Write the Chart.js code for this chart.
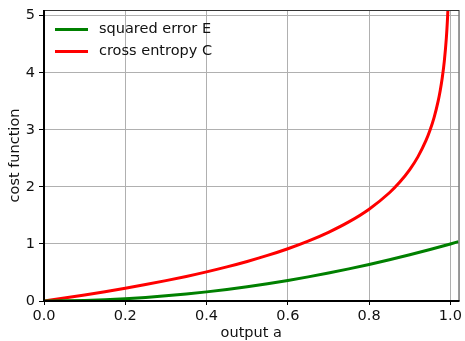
<!DOCTYPE html>
<html>
<head>
<meta charset="utf-8">
<script src="https://cdn.jsdelivr.net/npm/chart.js@4/dist/chart.umd.min.js"></script>
<style>
html,body{margin:0;padding:0;background:#fff;}
#wrap{width:465px;height:341px;position:relative;}
</style>
</head>
<body>
<div id="wrap"><canvas id="c" width="465" height="341"></canvas></div>
<script>
// output a values and read cost values
const xE = [0,0.05,0.1,0.15,0.2,0.25,0.3,0.35,0.4,0.45,0.5,0.55,0.6,0.65,0.7,0.75,0.8,0.85,0.9,0.95,1.0,1.02];
const squaredError = [0,0.0025,0.01,0.0225,0.04,0.0625,0.09,0.1225,0.16,0.2025,0.25,0.3025,0.36,0.4225,0.49,0.5625,0.64,0.7225,0.81,0.9025,1.0,1.04];
const xC = [0,0.05,0.1,0.15,0.2,0.25,0.3,0.35,0.4,0.45,0.5,0.55,0.6,0.65,0.7,0.75,0.8,0.85,0.875,0.9,0.92,0.94,0.95,0.96,0.97,0.975,0.98,0.985,0.99,0.993,0.994];
const crossEntropy = [0,0.0513,0.1054,0.1625,0.2231,0.2877,0.3567,0.4308,0.5108,0.5978,0.6931,0.7985,0.9163,1.0498,1.2040,1.3863,1.6094,1.8971,2.0794,2.3026,2.5257,2.8134,2.9957,3.2189,3.5066,3.6889,3.9120,4.1997,4.6052,4.9618,5.1160];
const xTicks = [0,0.2,0.4,0.6,0.8,1.0];
const yTicks = [0,1,2,3,4,5];
const seriesLabels = ["squared error E","cross entropy C"];
const axisTitles = {x:"output a", y:"cost function"};

const FONT = "'DejaVu Sans', sans-serif";
const FS = 14.5;

const legendPlugin = {
  id:'inlegend',
  afterDraw(chart){
    const ctx = chart.ctx;
    const a = chart.chartArea;
    ctx.save();
    chart.data.datasets.forEach((ds,i)=>{
      const y = a.top + 19.5 + i*22;
      ctx.strokeStyle = ds.borderColor;
      ctx.lineWidth = 3;
      ctx.beginPath();
      ctx.moveTo(a.left+11, y);
      ctx.lineTo(a.left+44, y);
      ctx.stroke();
      ctx.fillStyle = '#111';
      ctx.font = FS + "px " + FONT;
      ctx.textBaseline = 'middle';
      ctx.textAlign = 'left';
      ctx.fillText(ds.label, a.left+55, y);
    });
    ctx.restore();
  }
};

const framePlugin = {
  id:'frame',
  afterDatasetsDraw(chart){
    const ctx = chart.ctx;
    const a = chart.chartArea;
    ctx.save();
    ctx.strokeStyle = '#333';
    ctx.lineWidth = 1;
    ctx.beginPath();
    ctx.moveTo(a.left, a.top+0.5); ctx.lineTo(a.right+0.5, a.top+0.5);
    ctx.moveTo(a.right+0.5, a.top); ctx.lineTo(a.right+0.5, a.bottom);
    ctx.stroke();
    ctx.strokeStyle = '#000';
    ctx.lineWidth = 2;
    ctx.beginPath();
    ctx.moveTo(a.left, a.top); ctx.lineTo(a.left, a.bottom+1);
    ctx.moveTo(a.left-1, a.bottom); ctx.lineTo(a.right+1, a.bottom);
    ctx.stroke();
    ctx.restore();
  }
};

new Chart(document.getElementById('c'), {
  type:'scatter',
  data:{
    datasets:[
      {label:seriesLabels[0], data:xE.map((x,i)=>({x:x,y:squaredError[i]})), borderColor:'#008000', backgroundColor:'#008000', showLine:true, pointRadius:0, borderWidth:3, cubicInterpolationMode:'monotone'},
      {label:seriesLabels[1], data:xC.map((x,i)=>({x:x,y:crossEntropy[i]})), borderColor:'#ff0000', backgroundColor:'#ff0000', showLine:true, pointRadius:0, borderWidth:3, cubicInterpolationMode:'monotone'}
    ]
  },
  options:{
    responsive:false,
    animation:false,
    layout:{padding:{top:10,right:4,left:0,bottom:0}},
    plugins:{legend:{display:false}, tooltip:{enabled:false}},
    scales:{
      x:{
        type:'linear', min:0, max:1.02,
        afterBuildTicks(s){ s.ticks = xTicks.map(v=>({value:v})); },
        afterFit(s){ s.height = 40; },
        ticks:{callback:v=>v.toFixed(1), color:'#111', font:{family:FONT,size:FS,lineHeight:1.1}, padding:3, maxRotation:0, autoSkip:false},
        grid:{color:'#b0b0b0', lineWidth:1, tickColor:'#000', tickLength:4, drawOnChartArea:true},
        border:{display:false},
        title:{display:true, text:axisTitles.x, color:'#111', font:{family:FONT,size:FS,lineHeight:1.1}, padding:{top:0,bottom:0}}
      },
      y:{
        type:'linear', min:0, max:5.1,
        afterBuildTicks(s){ s.ticks = yTicks.map(v=>({value:v})); },
        afterFit(s){ s.width = 44; s.paddingTop = 0; },
        ticks:{callback:v=>String(v), color:'#111', font:{family:FONT,size:FS,lineHeight:1.0}, padding:4, autoSkip:false},
        grid:{color:'#b0b0b0', lineWidth:1, tickColor:'#000', tickLength:5},
        border:{display:false},
        title:{display:true, text:axisTitles.y, color:'#111', font:{family:FONT,size:FS,lineHeight:1.1}, padding:{top:7,bottom:0}}
      }
    }
  },
  plugins:[legendPlugin, framePlugin]
});
</script>
</body>
</html>
